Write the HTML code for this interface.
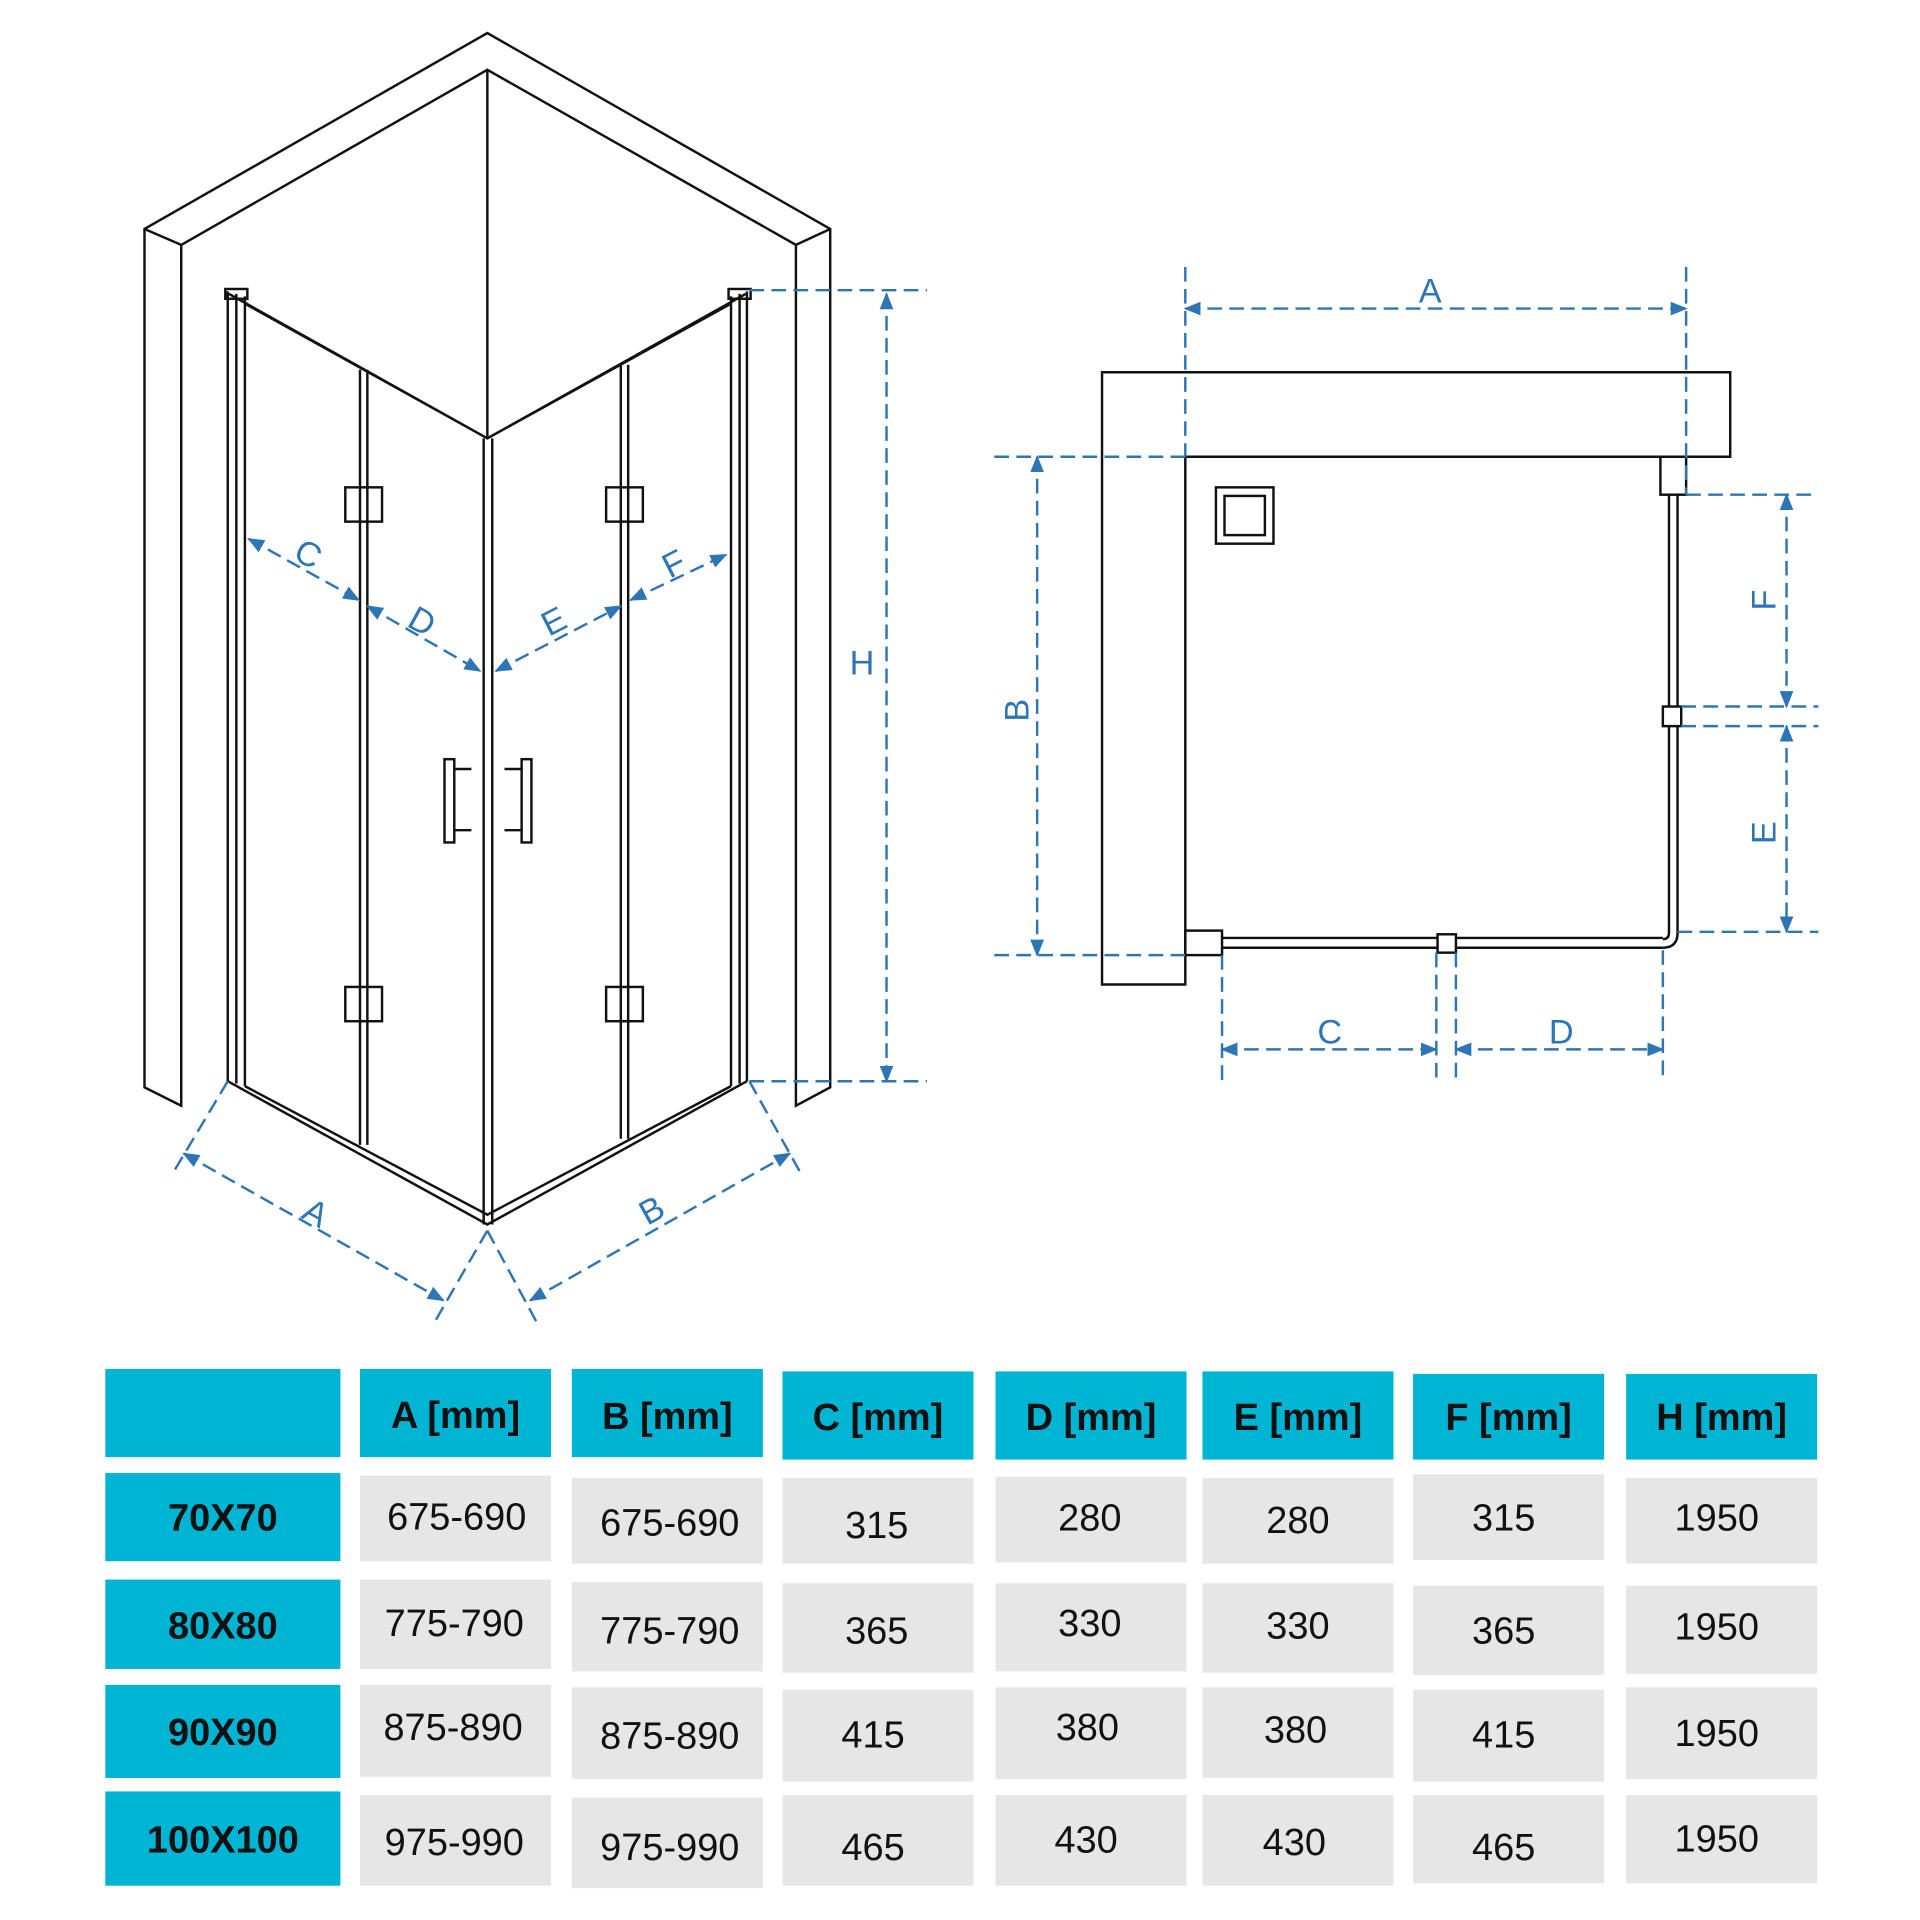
<!DOCTYPE html><html><head><style>body{margin:0;background:#fff}svg{display:block}</style></head><body>
<svg width="1920" height="1920" viewBox="0 0 1568 1568" xmlns="http://www.w3.org/2000/svg">
<defs><marker id="ar" viewBox="0 0 10 10" refX="9" refY="5" markerWidth="7" markerHeight="7" orient="auto-start-reverse"><path d="M0,1 L10,5 L0,9 z" fill="#2e75b6"/></marker></defs>
<g fill="none" stroke="#111" stroke-width="2">
<path d="M118,187 L398,27 L678,187 L678,888 L650,903 L650,200 L398,57 L148,200 L148,903 L118,888 Z"/>
<path d="M118,187 L148,200 M678,187 L650,200 M398,57 L398,358"/>
<path d="M187,240 L398,358 L609,240 M200,248 L398,358 L597,248"/>
<path d="M186,238 L186,883 M193,240 L193,885 M200,242 L200,887 M597,242 L597,887 M604,240 L604,885 M610,238 L610,883"/>
<path d="M186,883 L398,1000 L610,883 M200,887 L398,992 L597,887"/>
<path d="M395,358 L395,1000 M402,358 L402,1000"/>
<path d="M294,302 L294,935 M300,302 L300,935 M507,298 L507,930 M513,298 L513,930"/>
<rect x="184" y="236" width="18" height="8"/><rect x="595" y="236" width="18" height="8"/>
<rect x="282" y="398" width="30" height="28"/><rect x="282" y="806" width="30" height="28"/>
<rect x="495" y="398" width="30" height="28"/><rect x="495" y="806" width="30" height="28"/>
<rect x="363" y="620" width="8" height="68"/><rect x="426" y="620" width="8" height="68"/>
<path d="M371,628 L385,628 M371,678 L385,678 M412,628 L426,628 M412,678 L426,678"/>
<path d="M900,304 L1413,304 L1413,373 L968,373 L968,804 L900,804 Z"/>
<rect x="993" y="398" width="47" height="46"/><rect x="1000" y="405" width="33" height="32"/>
<rect x="1356" y="373" width="21" height="31"/>
<path d="M1363,404 L1363,762 M1370,404 L1370,762 Q1370,774 1358,774 M1363,762 Q1363,767 1358,767"/>
<path d="M998,766 L1358,766 M998,774 L1358,774"/>
<rect x="968" y="760" width="30" height="20"/>
<rect x="1174" y="763" width="15" height="15" fill="#fff"/>
<rect x="1358" y="577" width="15" height="16" fill="#fff"/>
</g>
<g stroke="#2e75b6" stroke-width="2" fill="none" stroke-dasharray="12,6">
<path d="M203,440 L293,490" marker-start="url(#ar)" marker-end="url(#ar)"/>
<path d="M300,495 L392,548" marker-start="url(#ar)" marker-end="url(#ar)"/>
<path d="M405,548 L507,495" marker-start="url(#ar)" marker-end="url(#ar)"/>
<path d="M515,490 L593,453" marker-start="url(#ar)" marker-end="url(#ar)"/>
<path d="M724,240 L724,883" marker-start="url(#ar)" marker-end="url(#ar)"/>
<path d="M612,237 L757,237 M612,883 L757,883"/>
<path d="M150,942 L362,1062" marker-start="url(#ar)" marker-end="url(#ar)"/>
<path d="M186,883 L140,960 M398,1005 L353,1083 M398,1005 L440,1083 M612,883 L655,960"/>
<path d="M433,1062 L645,942" marker-start="url(#ar)" marker-end="url(#ar)"/>
<path d="M968,252 L1377,252" marker-start="url(#ar)" marker-end="url(#ar)"/>
<path d="M968,218 L968,373 M1377,218 L1377,404"/>
<path d="M847,373 L847,780" marker-start="url(#ar)" marker-end="url(#ar)"/>
<path d="M812,373 L968,373 M812,780 L968,780"/>
<path d="M1459,404 L1459,577" marker-start="url(#ar)" marker-end="url(#ar)"/>
<path d="M1459,593 L1459,761" marker-start="url(#ar)" marker-end="url(#ar)"/>
<path d="M1377,404 L1485,404 M1373,577 L1485,577 M1373,593 L1485,593 M1370,761 L1485,761"/>
<path d="M998,857 L1173,857" marker-start="url(#ar)" marker-end="url(#ar)"/>
<path d="M1189,857 L1358,857" marker-start="url(#ar)" marker-end="url(#ar)"/>
<path d="M998,780 L998,883 M1173,778 L1173,883 M1189,778 L1189,883 M1358,776 L1358,883"/>
</g>
<g fill="#2e75b6" font-family="Liberation Sans, sans-serif" font-size="28" text-anchor="middle">
<text x="252" y="462" transform="rotate(29 252 452)">C</text>
<text x="345" y="517" transform="rotate(29 345 507)">D</text>
<text x="452" y="517" transform="rotate(-27 452 507)">E</text>
<text x="550" y="470" transform="rotate(-27 550 460)">F</text>
<text x="704" y="551">H</text>
<text x="258" y="1000" transform="rotate(29 258 990)">A</text>
<text x="532" y="998" transform="rotate(-29 532 988)">B</text>
<text x="1168" y="247">A</text>
<text x="830" y="590" transform="rotate(-90 830 580)">B</text>
<text x="1440" y="500" transform="rotate(-90 1440 490)">F</text>
<text x="1440" y="690" transform="rotate(-90 1440 680)">E</text>
<text x="1086" y="852">C</text>
<text x="1275" y="852">D</text>
</g>
<g fill="#00b4d4">
<rect x="86" y="1118" width="192" height="72"/><rect x="294" y="1118" width="156" height="72"/><rect x="467" y="1118" width="156" height="72"/><rect x="639" y="1120" width="156" height="72"/><rect x="813" y="1120" width="156" height="72"/><rect x="982" y="1120" width="156" height="72"/><rect x="1154" y="1122" width="156" height="70"/><rect x="1328" y="1122" width="156" height="70"/>
<rect x="86" y="1203" width="192" height="72"/><rect x="86" y="1290" width="192" height="73"/><rect x="86" y="1376" width="192" height="76"/><rect x="86" y="1463" width="192" height="77"/>
</g>
<g fill="#e6e6e6">
<rect x="294" y="1205" width="156" height="70"/><rect x="467" y="1207" width="156" height="70"/><rect x="639" y="1207" width="156" height="70"/><rect x="813" y="1206" width="156" height="70"/><rect x="982" y="1207" width="156" height="70"/><rect x="1154" y="1204" width="156" height="70"/><rect x="1328" y="1207" width="156" height="70"/>
<rect x="294" y="1290" width="156" height="73"/><rect x="467" y="1292" width="156" height="73"/><rect x="639" y="1293" width="156" height="73"/><rect x="813" y="1293" width="156" height="72"/><rect x="982" y="1293" width="156" height="73"/><rect x="1154" y="1295" width="156" height="73"/><rect x="1328" y="1295" width="156" height="72"/>
<rect x="294" y="1376" width="156" height="75"/><rect x="467" y="1378" width="156" height="75"/><rect x="639" y="1380" width="156" height="75"/><rect x="813" y="1378" width="156" height="75"/><rect x="982" y="1378" width="156" height="74"/><rect x="1154" y="1380" width="156" height="75"/><rect x="1328" y="1378" width="156" height="75"/>
<rect x="294" y="1466" width="156" height="74"/><rect x="467" y="1468" width="156" height="74"/><rect x="639" y="1466" width="156" height="74"/><rect x="813" y="1466" width="156" height="74"/><rect x="982" y="1466" width="156" height="74"/><rect x="1154" y="1466" width="156" height="72"/><rect x="1328" y="1466" width="156" height="72"/>
</g>
<g fill="#111" font-family="Liberation Sans, sans-serif" font-size="31" text-anchor="middle" font-weight="bold">
<text x="372" y="1166">A [mm]</text><text x="545" y="1167">B [mm]</text><text x="717" y="1168">C [mm]</text><text x="891" y="1168">D [mm]</text><text x="1060" y="1168">E [mm]</text><text x="1232" y="1168">F [mm]</text><text x="1406" y="1168">H [mm]</text>
<text x="182" y="1250">70X70</text><text x="182" y="1338">80X80</text><text x="182" y="1425">90X90</text><text x="182" y="1513">100X100</text>
</g>
<g fill="#111" font-family="Liberation Sans, sans-serif" font-size="31" text-anchor="middle">
<text x="373" y="1249">675-690</text><text x="547" y="1254">675-690</text><text x="716" y="1256">315</text><text x="890" y="1250">280</text><text x="1060" y="1252">280</text><text x="1228" y="1250">315</text><text x="1402" y="1250">1950</text>
<text x="371" y="1336">775-790</text><text x="547" y="1342">775-790</text><text x="716" y="1342">365</text><text x="890" y="1336">330</text><text x="1060" y="1338">330</text><text x="1228" y="1342">365</text><text x="1402" y="1339">1950</text>
<text x="370" y="1421">875-890</text><text x="547" y="1428">875-890</text><text x="713" y="1427">415</text><text x="888" y="1421">380</text><text x="1058" y="1423">380</text><text x="1228" y="1427">415</text><text x="1402" y="1426">1950</text>
<text x="371" y="1515">975-990</text><text x="547" y="1519">975-990</text><text x="713" y="1519">465</text><text x="887" y="1513">430</text><text x="1057" y="1515">430</text><text x="1228" y="1519">465</text><text x="1402" y="1512">1950</text>
</g>
</svg>
</body></html>
